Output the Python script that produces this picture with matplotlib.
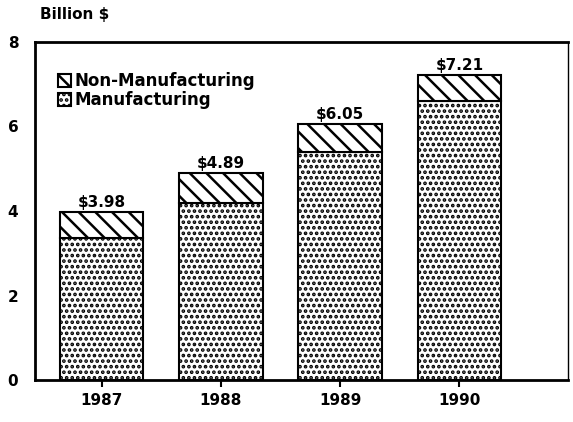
import matplotlib
matplotlib.use("Agg")
import matplotlib.pyplot as plt
import numpy as np

years = ["1987", "1988", "1989", "1990"]
manufacturing = [3.35, 4.20, 5.40, 6.60]
non_manufacturing = [0.63, 0.69, 0.65, 0.61]
totals = [3.98, 4.89, 6.05, 7.21]
total_labels = ["$3.98", "$4.89", "$6.05", "$7.21"]
yticks = [0, 2, 4, 6, 8]

plt.rcParams['hatch.linewidth'] = 1.8
plt.rcParams['font.family'] = ['DejaVu Sans']

fig = plt.figure(figsize=(5.73, 4.22), dpi=100)
ax = fig.add_axes([0.061, 0.0995, 0.93, 0.801])

x = np.arange(len(years))
w = 0.70
b1 = ax.bar(x, manufacturing, w, color='white', edgecolor='black', hatch='...', linewidth=1.5,
            label='Manufacturing')
b2 = ax.bar(x, non_manufacturing, w, bottom=manufacturing, color='white', edgecolor='black',
            hatch='\\\\', linewidth=1.5, label='Non-Manufacturing')

for xi, t, lab in zip(x, totals, total_labels):
    ax.text(xi, t + 0.05, lab, ha='center', va='bottom', fontsize=11, fontweight='bold')

ax.set_xlim(-0.56, 3.91)
ax.set_ylim(0, 8)
ax.set_xticks(x)
ax.set_xticklabels(years, fontsize=11, fontweight='bold')
ax.set_yticks(yticks)
ax.set_yticklabels([str(v) for v in yticks], fontsize=11, fontweight='bold')
ax.tick_params(axis='x', direction='out', length=5, width=1.5, pad=4)
ax.tick_params(axis='y', direction='out', length=0, pad=12)
for s in ax.spines.values():
    s.set_linewidth(2)
ax.spines['right'].set_linewidth(1)

leg = ax.legend(handles=[b2, b1], loc='upper left', bbox_to_anchor=(0.03, 0.93), frameon=False,
                prop={'size': 12, 'weight': 'bold'}, handlelength=0.8, handleheight=0.8,
                handletextpad=0.2, labelspacing=0.05, borderaxespad=0)

fig.text(0.07, 0.965, "Billion $", fontsize=11, fontweight='bold', ha='left', va='center')

fig.savefig("out.png", dpi=100)
